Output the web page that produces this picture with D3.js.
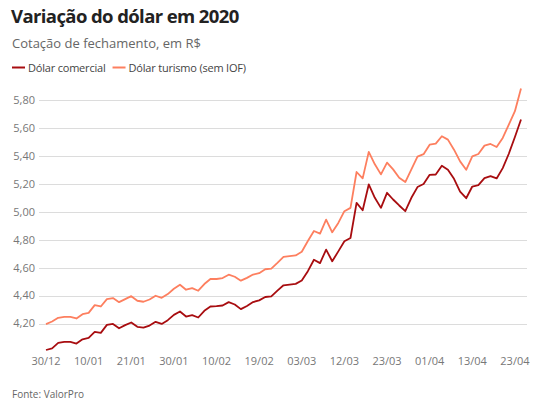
<!DOCTYPE html>
<html>
<head>
    <meta charset="utf-8">
    <title>Variação do dólar em 2020</title>
    <script src="https://d3js.org/d3.v7.min.js"></script>
    <style>
        body {
            margin: 0;
            background: #fff;
            font-family: "Open Sans", sans-serif;
        }
        .grid line {
            stroke: #dcdcdc;
            stroke-width: 1;
            shape-rendering: crispEdges;
        }
        .tick-label {
            fill: #777;
            font-size: 11px;
        }
        .line {
            fill: none;
            stroke-width: 1.8;
            stroke-linejoin: round;
        }
    </style>
</head>
<body>
    <div id="chart"></div>

    <script>
        // trading days, 30/12/2019 -> 24/04/2020
        const dates = [
            "30/12", "02/01", "03/01", "06/01", "07/01", "08/01", "09/01", "10/01", "13/01", "14/01",
            "15/01", "16/01", "17/01", "20/01", "21/01", "22/01", "23/01", "24/01", "27/01", "28/01",
            "29/01", "30/01", "31/01", "03/02", "04/02", "05/02", "06/02", "07/02", "10/02", "11/02",
            "12/02", "13/02", "14/02", "17/02", "18/02", "19/02", "20/02", "21/02", "26/02", "27/02",
            "28/02", "02/03", "03/03", "04/03", "05/03", "06/03", "09/03", "10/03", "11/03", "12/03",
            "13/03", "16/03", "17/03", "18/03", "19/03", "20/03", "23/03", "24/03", "25/03", "26/03",
            "27/03", "30/03", "31/03", "01/04", "02/04", "03/04", "06/04", "07/04", "08/04", "09/04",
            "13/04", "14/04", "15/04", "16/04", "17/04", "20/04", "22/04", "23/04", "24/04"
        ];

        const comercial = [
            4.010, 4.022, 4.061, 4.068, 4.068, 4.056, 4.087, 4.097, 4.140, 4.133,
            4.190, 4.197, 4.166, 4.188, 4.207, 4.176, 4.170, 4.185, 4.212, 4.197,
            4.224, 4.262, 4.286, 4.250, 4.260, 4.243, 4.291, 4.322, 4.324, 4.329,
            4.353, 4.336, 4.303, 4.326, 4.354, 4.366, 4.390, 4.395, 4.436, 4.474,
            4.479, 4.484, 4.508, 4.575, 4.657, 4.633, 4.730, 4.646, 4.717, 4.789,
            4.813, 5.065, 5.012, 5.197, 5.101, 5.029, 5.137, 5.089, 5.046, 5.005,
            5.101, 5.178, 5.200, 5.266, 5.268, 5.331, 5.302, 5.237, 5.146, 5.098,
            5.182, 5.192, 5.242, 5.256, 5.240, 5.314, 5.417, 5.537, 5.662
        ];

        const turismo = [
            4.195, 4.214, 4.241, 4.248, 4.248, 4.236, 4.267, 4.276, 4.332, 4.322,
            4.375, 4.382, 4.353, 4.375, 4.396, 4.363, 4.356, 4.372, 4.399, 4.384,
            4.411, 4.449, 4.478, 4.442, 4.454, 4.435, 4.483, 4.519, 4.519, 4.526,
            4.550, 4.535, 4.507, 4.527, 4.551, 4.561, 4.589, 4.594, 4.635, 4.678,
            4.683, 4.688, 4.714, 4.791, 4.863, 4.844, 4.945, 4.854, 4.921, 5.005,
            5.029, 5.286, 5.240, 5.430, 5.341, 5.269, 5.353, 5.305, 5.245, 5.214,
            5.305, 5.396, 5.414, 5.482, 5.489, 5.542, 5.518, 5.446, 5.362, 5.302,
            5.398, 5.415, 5.475, 5.487, 5.465, 5.530, 5.626, 5.722, 5.885
        ];

        const yTicks = [4.2, 4.4, 4.6, 4.8, 5.0, 5.2, 5.4, 5.6, 5.8];
        const xTicks = ["30/12", "10/01", "21/01", "30/01", "10/02", "19/02",
                        "03/03", "12/03", "23/03", "01/04", "13/04", "23/04"];

        const series = [
            { name: "Dólar comercial", values: comercial, color: "#a80d10" },
            { name: "Dólar turismo (sem IOF)", values: turismo, color: "#fd7f5f" }
        ];

        const width = 545;
        const height = 414;

        const svg = d3.select("#chart")
            .append("svg")
            .attr("width", width)
            .attr("height", height);

        const x = d3.scalePoint()
            .domain(dates)
            .range([46, 521]);

        const y = d3.scaleLinear()
            .domain([4.2, 5.8])
            .range([323.5, 100.3]);

        const fmt = v => d3.format(".2f")(v).replace(".", ",");

        // title
        svg.append("text")
            .attr("x", 11)
            .attr("y", 23)
            .attr("font-size", 18.5)
            .attr("font-weight", 700)
            .attr("letter-spacing", -0.6)
            .attr("fill", "#222")
            .text("Variação do dólar em 2020");

        svg.append("text")
            .attr("x", 12)
            .attr("y", 48)
            .attr("font-size", 13)
            .attr("fill", "#666")
            .text("Cotação de fechamento, em R$");

        // legend
        let lx = 12;
        series.forEach(s => {
            svg.append("line")
                .attr("x1", lx).attr("x2", lx + 13)
                .attr("y1", 67.5).attr("y2", 67.5)
                .attr("stroke", s.color)
                .attr("stroke-width", 2);
            const t = svg.append("text")
                .attr("x", lx + 16)
                .attr("y", 72)
                .attr("font-size", 11)
                .attr("letter-spacing", -0.2)
                .attr("fill", "#444")
                .text(s.name);
            lx += 16 + t.node().getComputedTextLength() + 7;
        });

        // grid + y labels
        const grid = svg.append("g").attr("class", "grid");
        grid.selectAll("line")
            .data(yTicks)
            .enter()
            .append("line")
            .attr("x1", 39)
            .attr("x2", 527)
            .attr("y1", d => Math.round(y(d)) + 0.5)
            .attr("y2", d => Math.round(y(d)) + 0.5);

        svg.selectAll(".y-label")
            .data(yTicks)
            .enter()
            .append("text")
            .attr("class", "tick-label")
            .attr("x", 35)
            .attr("y", d => y(d))
            .attr("dy", "0.35em")
            .attr("text-anchor", "end")
            .text(fmt);

        // x labels
        svg.selectAll(".x-label")
            .data(xTicks)
            .enter()
            .append("text")
            .attr("class", "tick-label")
            .attr("x", d => x(d))
            .attr("y", 365)
            .attr("text-anchor", "middle")
            .text(d => d);

        // lines
        const line = d3.line()
            .x((d, i) => x(dates[i]))
            .y(d => y(d));

        svg.selectAll(".line")
            .data(series.slice().reverse())
            .enter()
            .append("path")
            .attr("class", "line")
            .attr("stroke", d => d.color)
            .attr("d", d => line(d.values));

        // source
        svg.append("text")
            .attr("x", 12)
            .attr("y", 398)
            .attr("font-size", 10)
            .attr("fill", "#666")
            .text("Fonte: ValorPro");
    </script>
</body>
</html>
